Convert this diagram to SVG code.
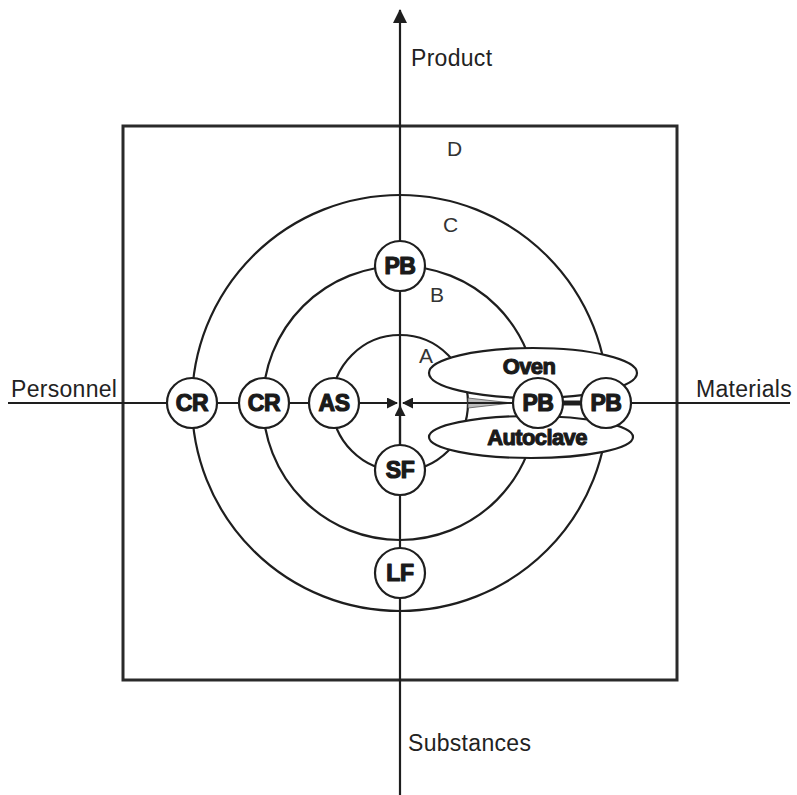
<svg xmlns="http://www.w3.org/2000/svg" width="797" height="795" viewBox="0 0 797 795">
  <style>
    .ln { fill: none; stroke: #1e1e1e; stroke-width: 2.2; }
    .ring { fill: none; stroke: #1e1e1e; stroke-width: 2.2; }
    .node circle { fill: #ffffff; stroke: #1e1e1e; stroke-width: 2.2; }
    .node text { font-family: "Liberation Sans", Arial, sans-serif; font-weight: bold; font-size: 23px; fill: #1a1a1a; stroke: #1a1a1a; stroke-width: 1.2; stroke-linejoin: round; text-anchor: middle; letter-spacing: -0.4px; }
    .zone { fill: #ffffff; stroke: #1e1e1e; stroke-width: 2.2; }
    .zone-label { font-family: "Liberation Sans", Arial, sans-serif; font-weight: bold; font-size: 22px; fill: #1a1a1a; stroke: #1a1a1a; stroke-width: 1.1; stroke-linejoin: round; text-anchor: middle; letter-spacing: -0.6px; }
    .axis-label { font-family: "Liberation Sans", Arial, sans-serif; font-size: 23px; fill: #222222; letter-spacing: 0.3px; }
    .ring-label { font-family: "Liberation Sans", Arial, sans-serif; font-size: 21px; fill: #333333; }
  </style>
  <defs>
    <marker id="headBig" markerWidth="14" markerHeight="14" refX="13" refY="7" orient="auto" markerUnits="userSpaceOnUse">
      <path d="M0,0 L14,7 L0,14 Z" fill="#1e1e1e"/>
    </marker>
    <marker id="headSmall" markerWidth="11" markerHeight="11" refX="10" refY="5.5" orient="auto" markerUnits="userSpaceOnUse">
      <path d="M0,0 L11,5.5 L0,11 Z" fill="#1e1e1e"/>
    </marker>
  </defs>

  <rect width="797" height="795" fill="#ffffff"/>

  <!-- boundary square (zone D) -->
  <rect id="zone-d" x="123" y="126" width="554" height="554" fill="none" stroke="#2a2a2a" stroke-width="3"/>

  <!-- concentric rings A, B, C -->
  <g id="rings">
    <circle class="ring" cx="400" cy="403" r="68"/>
    <circle class="ring" cx="400" cy="403" r="137"/>
    <circle class="ring" cx="400" cy="403" r="208"/>
  </g>

  <!-- axes and flows -->
  <g id="connectors">
    <line class="ln" x1="400" y1="795" x2="400" y2="10" marker-end="url(#headBig)"/>
    <line class="ln" x1="8" y1="403" x2="397" y2="403" marker-end="url(#headSmall)"/>
    <line class="ln" x1="790" y1="403" x2="403" y2="403" marker-end="url(#headSmall)"/>
    <line class="ln" x1="400" y1="470" x2="400" y2="406" marker-end="url(#headSmall)"/>
  </g>

  <!-- process zones -->
  <g id="oven">
    <ellipse class="zone" cx="533" cy="373" rx="104" ry="25"/>
    <text class="zone-label" x="529" y="374">Oven</text>
  </g>
  <g id="autoclave">
    <ellipse class="zone" cx="531" cy="437" rx="102" ry="21"/>
    <text class="zone-label" x="537" y="445">Autoclave</text>
  </g>

  <!-- converging feed into the inner PB -->
  <g id="feed">
    <path d="M468,398 L512,403 L468,408 Z" fill="#bdbdbd" stroke="#555555" stroke-width="0.8"/>
    <line class="ln" x1="468" y1="403" x2="512" y2="403"/>
    <line x1="560" y1="403" x2="584" y2="403" stroke="#1e1e1e" stroke-width="5"/>
  </g>

  <!-- nodes -->
  <g id="node-cr-outer" class="node"><circle cx="192" cy="403" r="25"/><text x="192" y="411">CR</text></g>
  <g id="node-cr-inner" class="node"><circle cx="264" cy="403" r="25"/><text x="264" y="411">CR</text></g>
  <g id="node-as" class="node"><circle cx="334" cy="403" r="25"/><text x="334" y="411">AS</text></g>
  <g id="node-pb-top" class="node"><circle cx="400" cy="266" r="25"/><text x="400" y="274">PB</text></g>
  <g id="node-sf" class="node"><circle cx="400" cy="470" r="25"/><text x="400" y="478">SF</text></g>
  <g id="node-lf" class="node"><circle cx="400" cy="573" r="25"/><text x="400" y="581">LF</text></g>
  <g id="node-pb-inner" class="node"><circle cx="538" cy="403" r="25"/><text x="538" y="411">PB</text></g>
  <g id="node-pb-outer" class="node"><circle cx="606" cy="403" r="25"/><text x="606" y="411">PB</text></g>

  <!-- ring letters -->
  <g id="ring-labels">
    <text class="ring-label" x="447" y="156">D</text>
    <text class="ring-label" x="443" y="232">C</text>
    <text class="ring-label" x="430" y="302">B</text>
    <text class="ring-label" x="419" y="363">A</text>
  </g>

  <!-- axis labels -->
  <g id="axis-labels">
    <text class="axis-label" x="411" y="66">Product</text>
    <text class="axis-label" x="11" y="397">Personnel</text>
    <text class="axis-label" x="792" y="397" text-anchor="end">Materials</text>
    <text class="axis-label" x="408" y="751">Substances</text>
  </g>
</svg>
